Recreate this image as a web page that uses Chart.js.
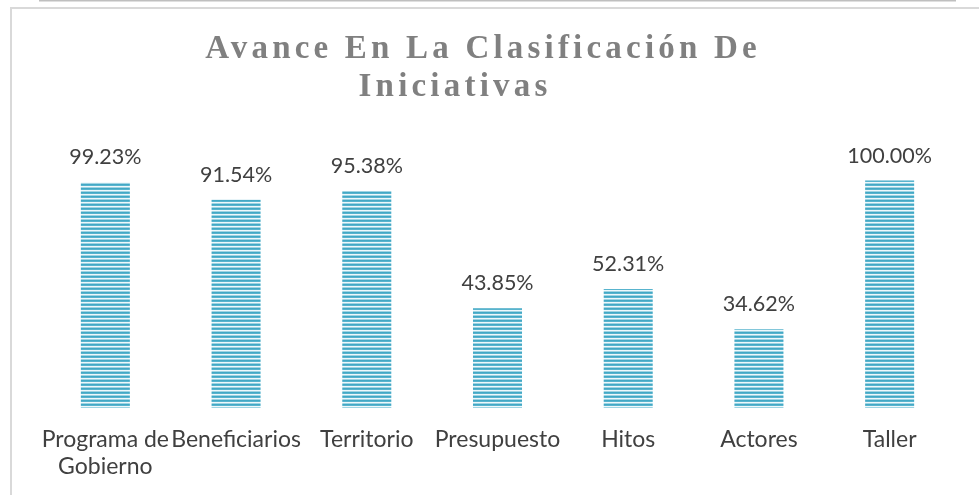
<!DOCTYPE html>
<html>
<head>
<meta charset="utf-8">
<script src="https://cdn.jsdelivr.net/npm/chart.js@4/dist/chart.umd.min.js"></script>
<style>
  html, body { margin: 0; padding: 0; background: #ffffff; overflow: hidden; }
  #wrap { position: relative; width: 979px; height: 495px; }
  #frame { position: absolute; left: 10px; top: 7px; width: 1000px; height: 600px;
           border-top: 2px solid #d9d9d9; border-left: 2px solid #d9d9d9; box-sizing: border-box; }
  #c { position: absolute; left: 0; top: 0; }
</style>
</head>
<body>
<div id="wrap"><div id="frame"></div><canvas id="c" width="979" height="495"></canvas></div>
<script>
const titleLines = ['Avance En La Clasificación De', 'Iniciativas'];
const categories = [['Programa de', 'Gobierno'], 'Beneficiarios', 'Territorio', 'Presupuesto', 'Hitos', 'Actores', 'Taller'];
const percentValues = [99.23, 91.54, 95.38, 43.85, 52.31, 34.62, 100.00];
const axisMax = 120;

function makePattern() {
  const p = document.createElement('canvas');
  p.width = 8; p.height = 4;
  const g = p.getContext('2d');
  const rows = ['#43a8c5', '#58b4ce', '#eef8fb', '#9fd4e3'];
  rows.forEach((c, i) => { g.fillStyle = c; g.fillRect(0, i, 8, 1); });
  return document.getElementById('c').getContext('2d').createPattern(p, 'repeat');
}

const titlePlugin = {
  id: 'spacedTitle',
  afterDraw(chart) {
    const ctx = chart.ctx;
    ctx.save();
    ctx.font = 'bold 33px "Liberation Serif", "Times New Roman", serif';
    ctx.fillStyle = '#808080';
    ctx.textBaseline = 'alphabetic';
    ctx.textAlign = 'center';
    try { ctx.letterSpacing = '4.2px'; } catch (e) {}
    ctx.fillText(titleLines[0], 483, 58);
    ctx.fillText(titleLines[1], 455, 96);
    ctx.restore();
  }
};

const labelPlugin = {
  id: 'barLabels',
  afterDatasetsDraw(chart) {
    const ctx = chart.ctx;
    const meta = chart.getDatasetMeta(0);
    ctx.save();
    ctx.font = '21.5px Lato, "Open Sans", sans-serif';
    ctx.fillStyle = '#404040';
    ctx.textAlign = 'center';
    ctx.textBaseline = 'alphabetic';
    meta.data.forEach((bar, i) => {
      ctx.fillText(percentValues[i].toFixed(2) + '%', bar.x, bar.y - 18);
    });
    ctx.restore();
  }
};

new Chart(document.getElementById('c'), {
  type: 'bar',
  data: {
    labels: categories,
    datasets: [{
      data: percentValues,
      backgroundColor: makePattern(),
      borderWidth: 0,
      categoryPercentage: 1,
      barPercentage: 0.375
    }]
  },
  options: {
    responsive: false,
    animation: false,
    events: [],
    layout: { padding: { left: 40, right: 24, top: 135, bottom: 0 } },
    plugins: {
      legend: { display: false },
      title: { display: false },
      tooltip: { enabled: false }
    },
    scales: {
      x: {
        grid: { display: false, drawTicks: false, z: 1 },
        border: { display: true, color: '#bfbfbf', width: 3 },
        ticks: {
          color: '#404040',
          font: { family: 'Lato, "Open Sans", sans-serif', size: 23, lineHeight: 1.17 },
          padding: 18,
          maxRotation: 0,
          autoSkip: false
        },
        afterFit(scale) { scale.height = 495 - 408; }
      },
      y: {
        display: false,
        min: 0,
        max: axisMax
      }
    }
  },
  plugins: [titlePlugin, labelPlugin]
});
</script>
</body>
</html>
